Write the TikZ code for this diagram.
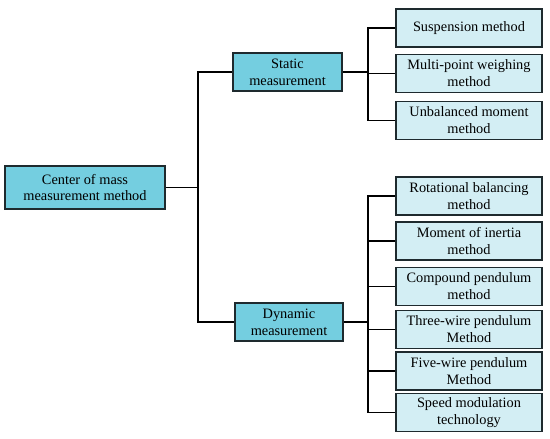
\documentclass[tikz,border=0pt]{standalone}
\usepackage{fontspec}
\setmainfont{Liberation Serif}
\usepackage{xcolor}
\definecolor{rootfill}{HTML}{74CEE0}
\definecolor{leaffill}{HTML}{D3EEF4}
\definecolor{edge}{HTML}{1E2A2E}

\begin{document}
\begin{tikzpicture}[x=1bp,y=-1bp,line width=1.1pt,
  box/.style={draw=edge,line width=1.4pt,align=center,inner sep=1pt,
    font=\fontsize{14.4}{17}\selectfont},
  mainbox/.style={box,fill=rootfill,minimum height=38bp},
  leafbox/.style={box,fill=leaffill,minimum width=146bp,minimum height=38bp}]
\useasboundingbox (0,0) rectangle (550,439);
\node[mainbox,minimum width=160bp,minimum height=43bp] (root) at (85,187.5) {Center of mass\\measurement method};
\node[mainbox,minimum width=109bp] (stat) at (287.5,72) {Static\\measurement};
\node[mainbox,minimum width=108bp] (dyn) at (289,322) {Dynamic\\measurement};
\node[leafbox] (susp) at (469,28) {Suspension method};
\node[leafbox] (multi) at (469,73.5) {Multi-point weighing\\method};
\node[leafbox] (unbal) at (469,120.5) {Unbalanced moment\\method};
\node[leafbox] (rot) at (469,196) {Rotational balancing\\method};
\node[leafbox] (inert) at (469,241) {Moment of inertia\\method};
\node[leafbox] (comp) at (469,286.5) {Compound pendulum\\method};
\node[leafbox] (three) at (469,329.5) {Three-wire pendulum\\Method};
\node[leafbox] (five) at (469,371) {Five-wire pendulum\\Method};
\node[leafbox] (speed) at (469,412.5) {Speed modulation\\technology};
% trunks
\coordinate (j0) at (198,187.5);
\coordinate (j1) at (368,72);
\coordinate (j2) at (368,322);
\draw (root.east) -- (j0);
\foreach \n in {stat,dyn} {\draw (j0) |- (\n.west);}
\draw (stat.east) -- (j1);
\foreach \n in {susp,multi,unbal} {\draw (j1) |- (\n.west);}
\draw (dyn.east) -- (j2);
\foreach \n in {rot,inert,comp,three,five,speed} {\draw (j2) |- (\n.west);}
\end{tikzpicture}
\end{document}
